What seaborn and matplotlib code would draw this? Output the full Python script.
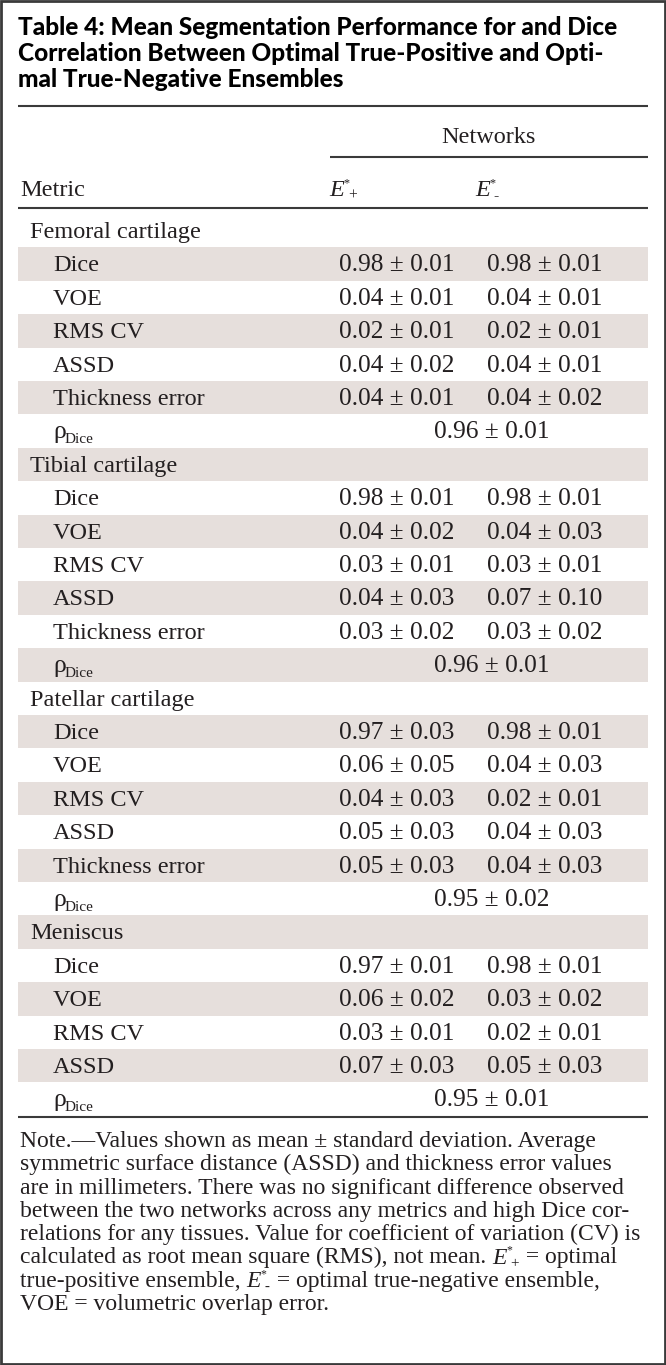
import matplotlib
matplotlib.use("Agg")
import matplotlib.pyplot as plt
import seaborn as sns
from matplotlib.patches import Rectangle

# table content
title_lines = [
    "Table 4: Mean Segmentation Performance for and Dice",
    "Correlation Between Optimal True-Positive and Opti-",
    "mal True-Negative Ensembles",
]
tissues = ["Femoral cartilage", "Tibial cartilage", "Patellar cartilage", "Meniscus"]
metrics = [
    ["Dice", "VOE", "RMS CV", "ASSD", "Thickness error"],
    ["Dice", "VOE", "RMS CV", "ASSD", "Thickness error"],
    ["Dice", "VOE", "RMS CV", "ASSD", "Thickness error"],
    ["Dice", "VOE", "RMS CV", "ASSD"],
]
plus_mean = [[0.98, 0.04, 0.02, 0.04, 0.04],
             [0.98, 0.04, 0.03, 0.04, 0.03],
             [0.97, 0.06, 0.04, 0.05, 0.05],
             [0.97, 0.06, 0.03, 0.07]]
plus_sd = [[0.01, 0.01, 0.01, 0.02, 0.01],
           [0.01, 0.02, 0.01, 0.03, 0.02],
           [0.03, 0.05, 0.03, 0.03, 0.03],
           [0.01, 0.02, 0.01, 0.03]]
minus_mean = [[0.98, 0.04, 0.02, 0.04, 0.04],
              [0.98, 0.04, 0.03, 0.07, 0.03],
              [0.98, 0.04, 0.02, 0.04, 0.04],
              [0.98, 0.03, 0.02, 0.05]]
minus_sd = [[0.01, 0.01, 0.01, 0.01, 0.02],
            [0.01, 0.03, 0.01, 0.10, 0.02],
            [0.01, 0.03, 0.01, 0.03, 0.03],
            [0.01, 0.02, 0.01, 0.03]]
rho_mean = [0.96, 0.96, 0.95, 0.95]
rho_sd = [0.01, 0.01, 0.02, 0.01]

# note lines; "{E+}" / "{E-}" mark the ensemble symbols
note_lines = [
    "Note.\u2014Values shown as mean \u00b1 standard deviation. Average",
    "symmetric surface distance (ASSD) and thickness error values",
    "are in millimeters. There was no significant difference observed",
    "between the two networks across any metrics and high Dice cor-",
    "relations for any tissues. Value for coefficient of variation (CV) is",
    "calculated as root mean square (RMS), not mean. {E+} = optimal",
    "true-positive ensemble, {E-} = optimal true-negative ensemble,",
    "VOE = volumetric overlap error.",
]

sns.set_theme(style="white")
plt.rcParams["font.family"] = ["Liberation Serif", "DejaVu Serif"]

ink = "#231f20"
rule = "#3a3a3a"
shade = "#e6dfdc"
fs = 17.5
fs_val = 18.3
fs_note = 17

fig = plt.figure(figsize=(6.66, 13.65), dpi=100)
ax = fig.add_axes([0, 0, 1, 1])
ax.set_xlim(0, 666)
ax.set_ylim(1365, 0)
ax.axis("off")
renderer = fig.canvas.get_renderer()


def put(x, y, s, **kw):
    t = ax.text(x, y, s, va="baseline", color=ink, **kw)
    return x + t.get_window_extent(renderer).width


def ensemble(x, y, sign, size):
    # italic E with a small star and a lowered sign
    x = put(x, y, "E", fontsize=size, style="italic")
    ax.text(x, y - 0.58 * size, "*", fontsize=0.5 * size, va="baseline", color=ink)
    return put(x + 4, y + 0.22 * size, sign, fontsize=0.64 * size)


# title
for i, line in enumerate(title_lines):
    ax.text(18, 35 + 26 * i, line, fontsize=17.6, fontweight="black",
            family=["Lato", "DejaVu Sans"], color="black", va="baseline")

ax.hlines(106, 18, 648, color=rule, lw=1.5)
ax.text(488, 143, "Networks", fontsize=fs, ha="center", va="baseline", color=ink)
ax.hlines(157, 330, 648, color=rule, lw=1.5)
ax.text(20, 196, "Metric", fontsize=fs, va="baseline", color=ink)
ensemble(329, 196, "+", fs)
ensemble(475, 196, "-", fs)
ax.hlines(208, 18, 648, color=rule, lw=1.5)

# build the row list
rows = []
for g, tissue in enumerate(tissues):
    rows.append(("group", tissue, None, None))
    for m, name in enumerate(metrics[g]):
        rows.append(("metric", name,
                     f"{plus_mean[g][m]:.2f} \u00b1 {plus_sd[g][m]:.2f}",
                     f"{minus_mean[g][m]:.2f} \u00b1 {minus_sd[g][m]:.2f}"))
    rows.append(("rho", None, f"{rho_mean[g]:.2f} \u00b1 {rho_sd[g]:.2f}", None))

row_h = 33.4
top0 = 214
shaded = [top0 + row_h * i + row_h / 2 for i in range(len(rows)) if i % 2 == 1]
ax.barh(shaded, width=630, left=18, height=row_h, color=shade, lw=0)

for i, (kind, label, v1, v2) in enumerate(rows):
    base = top0 + row_h * i + 24
    if kind == "group":
        ax.text(30, base, label, fontsize=fs, va="baseline", color=ink)
    elif kind == "metric":
        ax.text(53, base, label, fontsize=fs, va="baseline", color=ink)
        ax.text(339, base, v1, fontsize=fs_val, va="baseline", color=ink)
        ax.text(487, base, v2, fontsize=fs_val, va="baseline", color=ink)
    else:
        ax.text(53, base, "\u03c1", fontsize=fs + 1, va="baseline", color=ink)
        ax.text(65, base + 5, "Dice", fontsize=11, va="baseline", color=ink)
        ax.text(492, base, v1, fontsize=fs_val, ha="center", va="baseline", color=ink)

ax.hlines(1117, 18, 648, color=rule, lw=1.5)

for i, line in enumerate(note_lines):
    y = 1147 + 23.3 * i
    x = 20
    rest = line
    while True:
        cut = [p for p in (rest.find("{E+}"), rest.find("{E-}")) if p >= 0]
        if not cut:
            put(x, y, rest, fontsize=fs_note)
            break
        p = min(cut)
        if p > 0:
            x = put(x, y, rest[:p], fontsize=fs_note)
        x = ensemble(x, y, rest[p + 2], fs_note) + 1
        rest = rest[p + 4:]

fig.patches.append(Rectangle((0.002, 0.001), 0.996, 0.998, transform=fig.transFigure,
                             fill=False, edgecolor=rule, lw=2))

fig.savefig("out.png", dpi=100)
